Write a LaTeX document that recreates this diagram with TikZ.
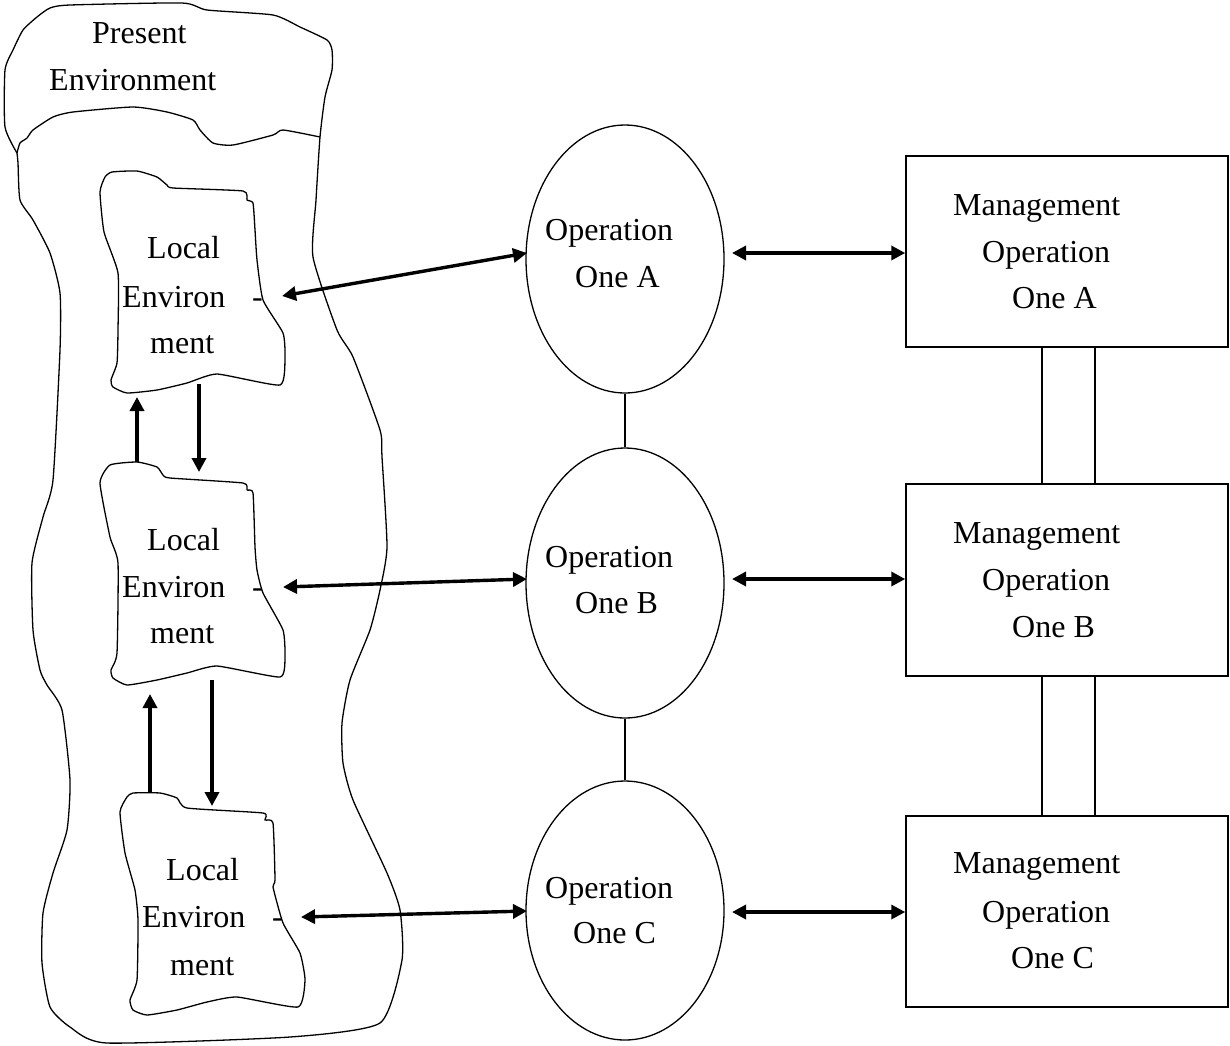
\documentclass[tikz,border=0pt]{standalone}
\usepackage{fontspec}
\setmainfont{Liberation Serif}
\usetikzlibrary{arrows.meta,shapes.geometric}
\begin{document}
\begin{tikzpicture}[x=1pt,y=-1pt,
  outline/.style={line width=1.3pt, line join=round},
  arr/.style={line width=3.4pt, {Triangle[length=14pt,width=14pt]}-{Triangle[length=14pt,width=14pt]}},
  uarr/.style={line width=3.4pt, -{Triangle[length=14pt,width=14pt]}},
  lbl/.style={anchor=base west, inner sep=0pt, font=\fontsize{32}{47}\selectfont},
  op/.style={draw, ellipse, line width=1.3pt, minimum width=198pt, inner sep=0pt},
  mg/.style={draw, rectangle, line width=1.5pt, minimum width=322pt, inner sep=0pt},
  link/.style={line width=1.2pt}]
\useasboundingbox (0,0) rectangle (1230,1045);

% Present environment (outer blob)
\draw[outline] plot[smooth, tension=0.35] coordinates {
 (17,153) (5,127) (5,70) (13,50) (23,30) (37,17) (50,8) (70,5) (182,3) (207,10)
 (273,15) (300,27) (327,40) (332,50) (332,70) (325,97) (320,137) (316,200) (313,257)
 (337,330) (353,357) (380,430) (382,457) (387,547) (380,590) (370,630) (350,680)
 (342,723) (343,763) (353,800) (387,873) (400,910) (402,960) (380,1023) (290,1037)
 (107,1043) (70,1027) (50,1007) (42,963) (43,913) (53,873) (67,830) (70,780) (62,710)
 (47,685) (40,670) (33,630) (32,563) (43,517) (53,480) (60,350) (60,293) (50,253)
 (33,220) (20,200) (18,163) (17,153)};
\draw[outline] plot[smooth, tension=0.35] coordinates {
 (320,137) (283,130) (273,135) (233,145) (213,143) (200,130) (193,120) (167,112)
 (133,107) (73,112) (53,117) (33,130) (27,138) (20,143) (17,153)};

% Local environment A
\draw[outline] plot[smooth cycle, tension=0.3] coordinates {
 (100,192) (105,177) (112,172) (137,171) (157,177) (167,185) (173,188) (243,191)
 (247,200) (253,203) (255,230) (257,260) (263,300) (283,333) (285,357) (280,385)
 (217,374) (187,383) (157,390) (127,393) (113,387) (111,380) (117,363) (118,330)
 (118,273) (104,232)};
% Local environment B
\draw[outline] plot[smooth cycle, tension=0.3] coordinates {
 (100,483) (110,465) (137,462) (157,467) (163,475) (170,478) (243,483) (247,490)
 (253,493) (255,547) (257,570) (263,593) (283,630) (285,657) (280,677) (217,666)
 (187,673) (157,680) (127,685) (113,678) (111,670) (117,653) (118,563) (110,537)};
% Local environment C
\draw[outline] plot[smooth cycle, tension=0.3] coordinates {
 (120,812) (127,797) (133,793) (160,793) (177,798) (187,808) (263,813) (265,820)
 (273,823) (275,880) (273,887) (283,923) (300,953) (305,980) (298,1007) (237,997)
 (207,1002) (177,1010) (147,1015) (133,1010) (130,1000) (137,980) (138,920)
 (135,890) (125,853)};

% Texts of the left part
\node[lbl] (tP1) at (92,43) {Present};
\node[lbl] (tP2) at (49,90) {Environment};
\node[lbl] (tA1) at (147,258) {Local};
\node[lbl] (tA2) at (122,307) {Environ};
\node[lbl] (tA3) at (252,307) {-};
\node[lbl] (tA4) at (150,353) {ment};
\node[lbl] (tB1) at (147,550) {Local};
\node[lbl] (tB2) at (122,597) {Environ};
\node[lbl] (tB3) at (252,597) {-};
\node[lbl] (tB4) at (150,643) {ment};
\node[lbl] (tC1) at (166,880) {Local};
\node[lbl] (tC2) at (142,927) {Environ};
\node[lbl] (tC3) at (272,927) {-};
\node[lbl] (tC4) at (170,975) {ment};

% Operation ellipses
\node[op, minimum height=268pt] (opA) at (625,259) {};
\node[op, minimum height=270pt] (opB) at (625,583) {};
\node[op, minimum height=259pt] (opC) at (625,910.5) {};
\node[lbl] (oA1) at (545,240) {Operation};
\node[lbl] (oA2) at (575,287) {One A};
\node[lbl] (oB1) at (545,567) {Operation};
\node[lbl] (oB2) at (575,613) {One B};
\node[lbl] (oC1) at (545,898) {Operation};
\node[lbl] (oC2) at (573,943) {One C};
\draw[link] (opA.south) -- (opB.north);
\draw[link] (opB.south) -- (opC.north);

% Management rectangles
\node[mg, minimum height=191pt] (mA) at (1067,251.5) {};
\node[mg, minimum height=192pt] (mB) at (1067,580) {};
\node[mg, minimum height=191pt] (mC) at (1067,911.5) {};
\node[lbl] (mA1) at (953,215) {Management};
\node[lbl] (mA2) at (982,262) {Operation};
\node[lbl] (mA3) at (1012,308) {One A};
\node[lbl] (mB1) at (953,543) {Management};
\node[lbl] (mB2) at (982,590) {Operation};
\node[lbl] (mB3) at (1012,637) {One B};
\node[lbl] (mC1) at (953,873) {Management};
\node[lbl] (mC2) at (982,922) {Operation};
\node[lbl] (mC3) at (1011,968) {One C};
\coordinate (xl) at (1042,0);
\coordinate (xr) at (1095,0);
\draw[link] (mA.south -| xl) -- (mB.north -| xl);
\draw[link] (mA.south -| xr) -- (mB.north -| xr);
\draw[link] (mB.south -| xl) -- (mC.north -| xl);
\draw[link] (mB.south -| xr) -- (mC.north -| xr);

% Horizontal arrows
\coordinate (lA) at (282,296);
\coordinate (eA) at (527,253);
\coordinate (lB) at (283,587);
\coordinate (eB) at (527,579);
\coordinate (lC) at (301,917);
\coordinate (eC) at (527,911);
\draw[arr] (lA) -- (eA);
\draw[arr] (lB) -- (eB);
\draw[arr] (lC) -- (eC);
\coordinate (rA) at (732,253);
\coordinate (rB) at (732,579);
\coordinate (rC) at (732,912);
\draw[arr] (rA) -- (rA -| mA.west);
\draw[arr] (rB) -- (rB -| mB.west);
\draw[arr] (rC) -- (rC -| mC.west);

% Vertical arrows between local environments
\coordinate (u1s) at (137,462);
\coordinate (u1e) at (137,397);
\coordinate (d1s) at (199,384);
\coordinate (d1e) at (199,472);
\coordinate (u2s) at (150,793);
\coordinate (u2e) at (150,694);
\coordinate (d2s) at (212,680);
\coordinate (d2e) at (212,806);
\draw[uarr] (u1s) -- (u1e);
\draw[uarr] (d1s) -- (d1e);
\draw[uarr] (u2s) -- (u2e);
\draw[uarr] (d2s) -- (d2e);
\end{tikzpicture}
\end{document}
